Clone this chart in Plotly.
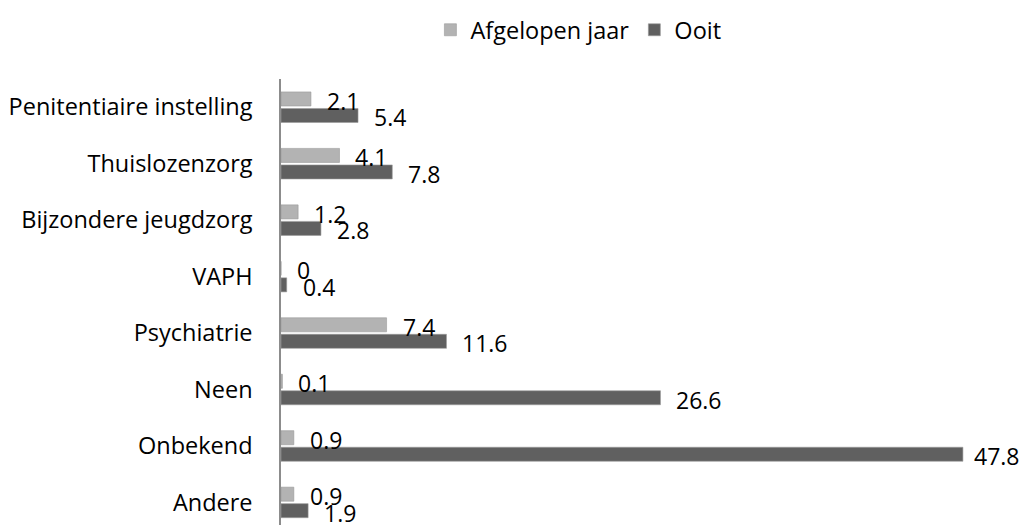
import plotly.graph_objects as go

categories = ["Penitentiaire instelling", "Thuislozenzorg", "Bijzondere jeugdzorg", "VAPH",
              "Psychiatrie", "Neen", "Onbekend", "Andere"]
afgelopen_jaar = [2.1, 4.1, 1.2, 0, 7.4, 0.1, 0.9, 0.9]
ooit = [5.4, 7.8, 2.8, 0.4, 11.6, 26.6, 47.8, 1.9]
series_names = ["Afgelopen jaar", "Ooit"]
colors = ["#b3b3b3", "#606060"]

FONT = "Open Sans"
FS = 23.5
LABEL_FS = 23
X_MAX = 50.4
fig = go.Figure()
for name, vals, col in zip(series_names, [afgelopen_jaar, ooit], colors):
    fig.add_trace(go.Bar(
        y=categories, x=vals, name=name, orientation="h",
        marker=dict(color=col, line=dict(color="#9a9a9a", width=0.6)),
        hoverinfo="x+y",
    ))

annotations = []
for vals, dy in [(afgelopen_jaar, 6.25), (ooit, -10.25)]:
    for c, v in zip(categories, vals):
        # pull the label in slightly when it would run past the right edge
        shift = 14 if v < X_MAX - 4 else 9
        annotations.append(dict(
            x=v, y=c, xref="x", yref="y", text=f"{v:g}",
            showarrow=False, xanchor="left", yanchor="middle",
            xshift=shift, yshift=dy,
            font=dict(family=FONT, size=LABEL_FS, color="#000000"),
        ))

H = 517
T = 71.3
fig.update_layout(
    width=1013, height=H,
    margin=dict(l=273, r=21, t=T, b=0),
    paper_bgcolor="white", plot_bgcolor="white",
    barmode="group", bargap=0.415, bargroupgap=0.15,
    font=dict(family=FONT, size=FS, color="#000000"),
    showlegend=True,
    legend=dict(orientation="h", x=0.417, xanchor="left", xref="container",
                y=1.0, yref="container", yanchor="top",
                font=dict(family=FONT, size=FS), itemwidth=30,
                traceorder="normal"),
    annotations=annotations,
)
rng_bottom = -0.5 + (H - T) / 56.42
fig.update_xaxes(range=[0, X_MAX], visible=False, showgrid=False, zeroline=False)
fig.update_yaxes(type="category", categoryorder="array", categoryarray=categories,
                 range=[rng_bottom, -0.5], showline=True, linecolor="#8c8c8c", linewidth=1.5,
                 showgrid=False, zeroline=False, ticks="", ticklabelstandoff=22,
                 automargin=False,
                 tickfont=dict(family=FONT, size=FS, color="#000000"))

fig.write_html("out.html")
